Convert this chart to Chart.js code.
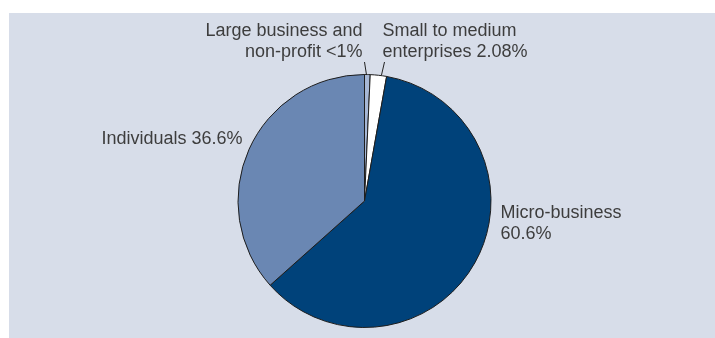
<!DOCTYPE html>
<html>
<head>
<meta charset="utf-8">
<script src="https://cdn.jsdelivr.net/npm/chart.js@4.4.1/dist/chart.umd.min.js"></script>
<style>
  html, body { margin: 0; padding: 0; background: #ffffff; }
  #wrap { width: 715px; height: 338px; position: relative; }
</style>
</head>
<body>
<div id="wrap"><canvas id="pie" width="715" height="338"></canvas></div>
<script>
// segments go clockwise from 12 o'clock
const categories = ["Large business and non-profit", "Small to medium enterprises", "Micro-business", "Individuals"];
const shares = [0.72, 2.08, 60.6, 36.6];
const shareLabels = ["<1%", "2.08%", "60.6%", "36.6%"];
const sliceColors = ["#a7b8d6", "#ffffff", "#00427a", "#6a87b3"];

const PANEL = "#d7dde9";
const TEXT = "#3d3d3d";
const FONT = '18px "Liberation Sans", Arial, sans-serif';

// where each label sits, relative to pie centre (dx, dy of first baseline), align, lines
const labelSpots = [
  { dx: -2, dy: -165, align: "right", lines: ["Large business and", "non-profit " + shareLabels[0]], leader: [2, -126, 0, -139] },
  { dx: 18, dy: -165, align: "left", lines: ["Small to medium", "enterprises " + shareLabels[1]], leader: [17, -126, 20, -139] },
  { dx: 136, dy: 17, align: "left", lines: ["Micro-business", shareLabels[2]] },
  { dx: -122, dy: -57, align: "right", lines: ["Individuals " + shareLabels[3]] }
];

const panelBg = {
  id: "panelBg",
  beforeDraw(chart) {
    const ctx = chart.ctx;
    ctx.save();
    ctx.fillStyle = PANEL;
    ctx.fillRect(9, 13, chart.width - 9, chart.height - 13);
    ctx.restore();
  }
};

const sliceLabels = {
  id: "sliceLabels",
  afterDraw(chart) {
    const arc = chart.getDatasetMeta(0).data[0];
    const cx = arc.x, cy = arc.y;
    const ctx = chart.ctx;
    ctx.save();
    ctx.font = FONT;
    ctx.fillStyle = TEXT;
    ctx.textBaseline = "alphabetic";
    labelSpots.forEach(s => {
      ctx.textAlign = s.align;
      s.lines.forEach((t, i) => ctx.fillText(t, cx + s.dx, cy + s.dy + i * 21));
      if (s.leader) {
        ctx.strokeStyle = "#222222";
        ctx.lineWidth = 1;
        ctx.beginPath();
        ctx.moveTo(cx + s.leader[0], cy + s.leader[1]);
        ctx.lineTo(cx + s.leader[2], cy + s.leader[3]);
        ctx.stroke();
      }
    });
    ctx.restore();
  }
};

new Chart(document.getElementById("pie"), {
  type: "pie",
  data: {
    labels: categories,
    datasets: [{
      data: shares,
      backgroundColor: sliceColors,
      borderColor: "#1e1e1e",
      borderWidth: 1
    }]
  },
  options: {
    responsive: false,
    animation: false,
    devicePixelRatio: 1,
    layout: { padding: { top: 74, bottom: 10, left: 237, right: 223 } },
    plugins: {
      legend: { display: false },
      tooltip: { enabled: false }
    }
  },
  plugins: [panelBg, sliceLabels]
});
</script>
</body>
</html>
